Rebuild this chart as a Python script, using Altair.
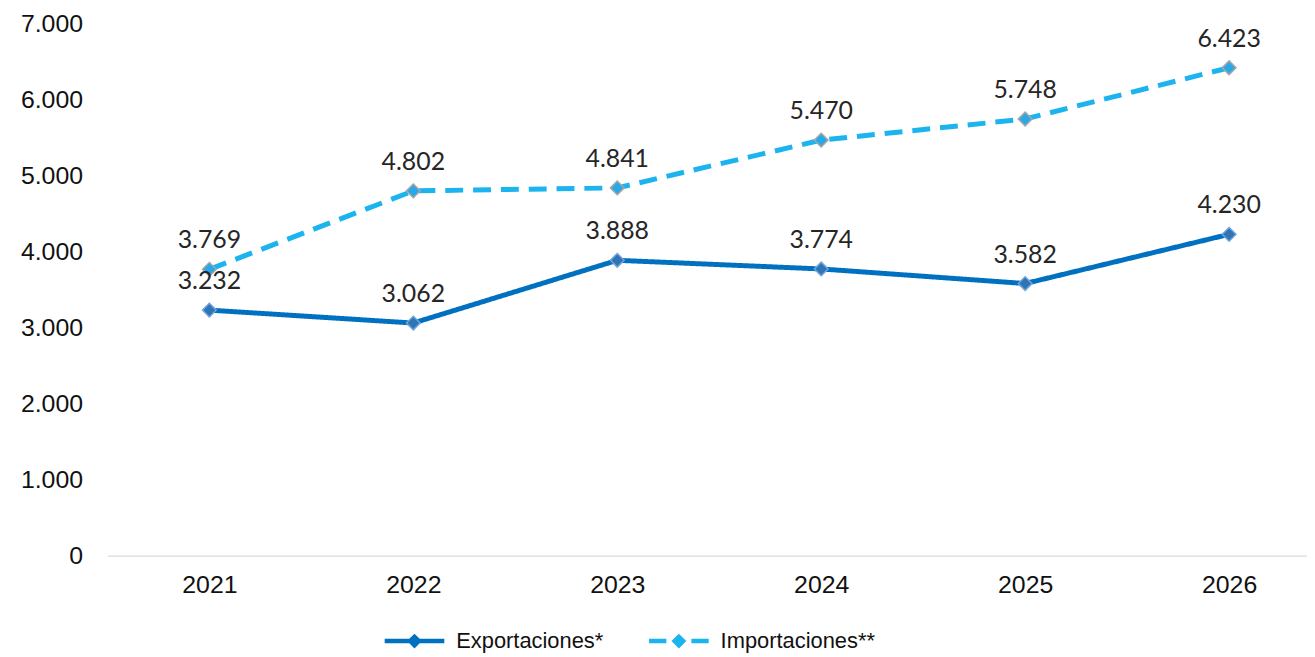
import altair as alt
import pandas as pd

years = ["2021", "2022", "2023", "2024", "2025", "2026"]
exportaciones = [3232, 3062, 3888, 3774, 3582, 4230]
importaciones = [3769, 4802, 4841, 5470, 5748, 6423]
series = ["Exportaciones*", "Importaciones**"]

rows = []
for y, v in zip(years, exportaciones):
    rows.append({"year": y, "value": v, "serie": series[0]})
for y, v in zip(years, importaciones):
    rows.append({"year": y, "value": v, "serie": series[1]})
df = pd.DataFrame(rows)

line_colors = ["#0070C0", "#1CB4EE"]
marker_fill = ["#2F75B5", "#27A9E9"]
marker_stroke = ["#6FA3DC", "#A5A5A5"]
legend_fill = ["#0070C0", "#1CB4EE"]

path_solid = ("M-1,-0.075L-0.175,-0.075L0,-0.25L0.175,-0.075L1,-0.075L1,0.075"
              "L0.175,0.075L0,0.25L-0.175,0.075L-1,0.075Z")
path_dash = ("M-1,-0.075L-0.42,-0.075L-0.42,0.075L-1,0.075Z"
             "M-0.25,0L0,-0.25L0.25,0L0,0.25Z"
             "M0.42,-0.075L1,-0.075L1,0.075L0.42,0.075Z")

x_enc = alt.X("year:N", sort=years,
              scale=alt.Scale(type="point", padding=0.441, align=0.567),
              axis=alt.Axis(title=None, labelAngle=0, ticks=False, domain=True,
                            domainColor="#D9D9D9", domainWidth=1.5,
                            labelPadding=17, labelFontSize=25,
                            labelFont="Liberation Sans", labelColor="#111111"))
y_enc = alt.Y("value:Q",
              scale=alt.Scale(domain=[0, 7000], nice=False),
              axis=alt.Axis(title=None, values=list(range(0, 7001, 1000)),
                            ticks=False, domain=False, grid=False,
                            labelPadding=25, labelFontSize=25,
                            labelFont="Liberation Sans", labelColor="#111111",
                            labelExpr="replace(format(datum.value, ','), ',', '.')"))

base = alt.Chart(df)

lines = base.mark_line(strokeWidth=5).encode(
    x=x_enc, y=y_enc,
    color=alt.Color("serie:N", scale=alt.Scale(domain=series, range=line_colors), legend=None),
    strokeDash=alt.StrokeDash("serie:N", scale=alt.Scale(domain=series, range=[[1, 0], [18, 10]]), legend=None),
)

points = base.mark_point(filled=True, shape="diamond", size=190, strokeWidth=1.5, opacity=1).encode(
    x=x_enc, y=y_enc,
    fill=alt.Fill("serie:N", scale=alt.Scale(domain=series, range=marker_fill), legend=None),
    stroke=alt.Stroke("serie:N", scale=alt.Scale(domain=series, range=marker_stroke), legend=None),
)

labels = base.transform_calculate(
    label="replace(format(datum.value, ','), ',', '.')"
).mark_text(dy=-29, font="Lato", fontSize=25, color="#262626").encode(
    x=x_enc, y=y_enc, text="label:N"
)

leg = alt.Legend(title=None, orient="none", legendX=279, legendY=591,
                 direction="horizontal", columns=2, columnPadding=46,
                 symbolSize=3600, symbolStrokeWidth=0, symbolOpacity=1,
                 labelFont="Liberation Sans", labelFontSize=22,
                 labelColor="#111111", labelOffset=12)

legend_layer = base.transform_calculate(leg="datum.serie").transform_filter(
    "datum.year == '2021'"
).mark_point(filled=True, opacity=0).encode(
    fill=alt.Fill("leg:N", scale=alt.Scale(domain=series, range=legend_fill), legend=leg),
    shape=alt.Shape("leg:N", scale=alt.Scale(domain=series, range=[path_solid, path_dash]), legend=leg),
)

chart = alt.layer(lines, points, labels, legend_layer).resolve_scale(
    fill="independent", shape="independent"
).resolve_legend(
    fill="independent", shape="independent"
).properties(
    width=1207, height=535,
    background="white",
    autosize=alt.AutoSizeParams(type="none"),
    padding={"left": 100, "top": 14, "right": 0, "bottom": 100},
).configure_view(stroke=None)

chart.save("out.html", embed_options={"renderer": "svg", "actions": False})
